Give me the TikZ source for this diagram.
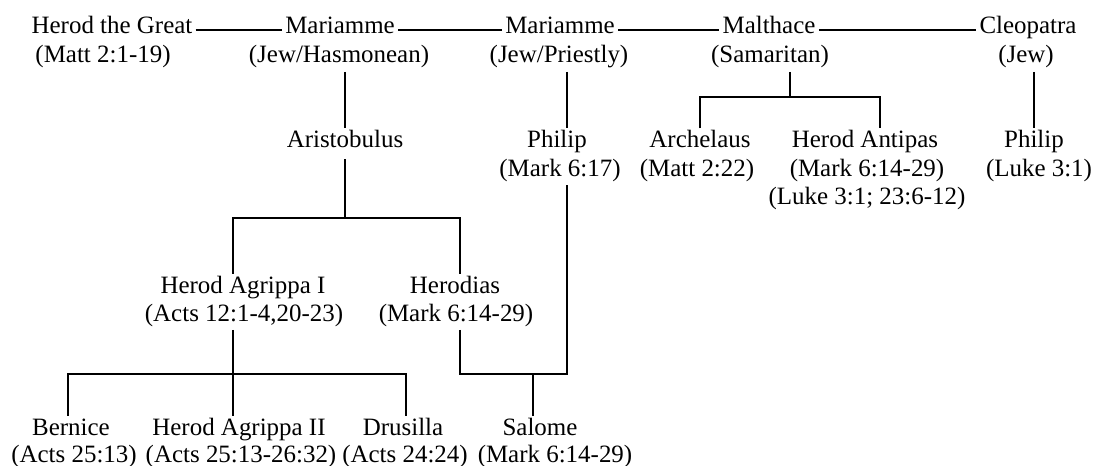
\documentclass[tikz,border=0pt]{standalone}
\usepackage{fontspec}
\setmainfont{Liberation Serif}
\usepackage{tikz}

\tikzset{
  who/.style={font=\fontsize{14.2}{16.5}\selectfont, anchor=base, inner xsep=0.06cm, inner ysep=0.13cm, text height=0.72em, text depth=0.26em},
  cite/.style={who, inner ysep=0.08cm},
  kin/.style={line width=0.9pt}
}

\begin{document}
\begin{tikzpicture}[x=0.02cm, y=-0.02cm]
\useasboundingbox (0,0) rectangle (1096,466);
\node[who] (herod) at (112,34) {Herod the Great};
\node[cite] (herodr) at (103,63) {(Matt 2:1-19)};
\node[who] (mar1) at (340,34) {Mariamme};
\node[cite] (mar1r) at (339,63) {(Jew/Hasmonean)};
\node[who] (mar2) at (560,34) {Mariamme};
\node[cite] (mar2r) at (559,63) {(Jew/Priestly)};
\node[who] (malt) at (769,34) {Malthace};
\node[cite] (maltr) at (770,63) {(Samaritan)};
\node[who] (cleo) at (1028,34) {Cleopatra};
\node[cite] (cleor) at (1026,63) {(Jew)};

\node[who] (aristo) at (345,148) {Aristobulus};
\node[who] (phil1) at (557,148) {Philip};
\node[cite] (phil1r) at (560,176) {(Mark 6:17)};
\node[who] (arch) at (700,148) {Archelaus};
\node[cite] (archr) at (697,176) {(Matt 2:22)};
\node[who] (antipas) at (865,148) {Herod Antipas};
\node[cite] (antipasr) at (867,176) {(Mark 6:14-29)};
\node[cite] (antipasl) at (867,204) {(Luke 3:1; 23:6-12)};
\node[who] (phil2) at (1034,148) {Philip};
\node[cite] (phil2r) at (1039,176) {(Luke 3:1)};

\node[who] (agr1) at (243,293) {Herod Agrippa I};
\node[cite] (agr1r) at (244,321) {(Acts 12:1-4,20-23)};
\node[who] (hdias) at (455,293) {Herodias};
\node[cite] (hdiasr) at (456,321) {(Mark 6:14-29)};

\node[who] (bern) at (71,435) {Bernice};
\node[cite] (bernr) at (74,462) {(Acts 25:13)};
\node[who] (agr2) at (239,435) {Herod Agrippa II};
\node[cite] (agr2r) at (241,462) {(Acts 25:13-26:32)};
\node[who] (dru) at (403,435) {Drusilla};
\node[cite] (drur) at (405,462) {(Acts 24:24)};
\node[who] (sal) at (540,435) {Salome};
\node[cite] (salr) at (555,462) {(Mark 6:14-29)};

\coordinate (a1) at (233,218);
\coordinate (a2) at (460,218);
\coordinate (b1) at (68,374);
\coordinate (b2) at (406,374);
\coordinate (s0) at (533,374);
\coordinate (s1) at (460,374);
\coordinate (s2) at (567,374);
\coordinate (m0) at (790,97);
\coordinate (m1) at (700,97);
\coordinate (m2) at (880,97);

\draw[kin] (herod.east) -- (mar1.west);
\draw[kin] (mar1.east) -- (mar2.west);
\draw[kin] (mar2.east) -- (malt.west);
\draw[kin] (malt.east) -- (cleo.west);

\draw[kin] (mar1r.south -| aristo) -- (aristo.north);
\draw[kin] (aristo.south) -- (aristo.south |- a1);
\draw[kin] (agr1.north -| a1) -- (a1) -- (a2) -- (hdias.north -| a2);
\draw[kin] (agr1r.south -| a1) -- (agr2.north -| a1);
\draw[kin] (bern.north -| b1) -- (b1) -- (b2) -- (dru.north -| b2);
\draw[kin] (mar2r.south -| s2) -- (phil1.north -| s2);
\draw[kin] (hdiasr.south -| s1) -- (s1) -- (s2) -- (phil1r.south -| s2);
\draw[kin] (s0) -- (sal.north -| s0);
\draw[kin] (maltr.south -| m0) -- (m0);
\draw[kin] (arch.north -| m1) -- (m1) -- (m2) -- (antipas.north -| m2);
\draw[kin] (cleor.south -| phil2) -- (phil2.north);
\end{tikzpicture}
\end{document}
